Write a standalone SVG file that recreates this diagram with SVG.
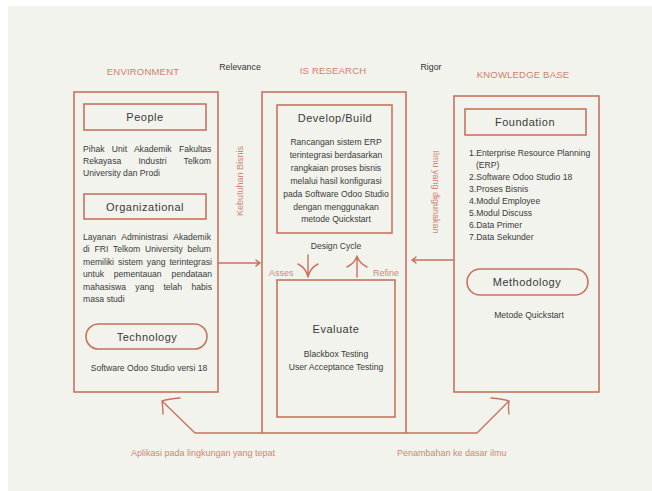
<svg xmlns="http://www.w3.org/2000/svg" width="652" height="491" viewBox="0 0 652 491">
<style>
.box{fill:none;stroke:#c8735f;stroke-width:1.6}
.ln{fill:none;stroke:#c8735f;stroke-width:1.4;stroke-linecap:round;stroke-linejoin:round}
.hd{font-family:"Liberation Sans",Arial,sans-serif;font-size:9.5px;fill:#d0806c;text-anchor:middle;letter-spacing:0.2px}
.rr{font-family:"Liberation Sans",Arial,sans-serif;font-size:8.8px;fill:#333;text-anchor:middle}
.tt{font-family:"Liberation Sans",Arial,sans-serif;font-size:11px;fill:#3a3a3a;text-anchor:middle;letter-spacing:0.5px}
.tx{font-family:"Liberation Sans",Arial,sans-serif;font-size:8.6px;fill:#3a3a3a}
.tc{font-family:"Liberation Sans",Arial,sans-serif;font-size:8.6px;fill:#3a3a3a;text-anchor:middle}
.lb{font-family:"Liberation Sans",Arial,sans-serif;font-size:9px;fill:#cf8672}
</style>
<rect x="0" y="0" width="652" height="491" fill="#ffffff"/>
<rect x="8" y="6" width="644" height="485" fill="#f3f3ee"/>

<g id="headers">
<text class="hd" x="143" y="75">ENVIRONMENT</text>
<text class="rr" x="240" y="70">Relevance</text>
<text class="hd" x="333" y="74">IS RESEARCH</text>
<text class="rr" x="431" y="70">Rigor</text>
<text class="hd" x="523" y="78">KNOWLEDGE BASE</text>
</g>

<g id="environment">
<rect class="box" x="74" y="92" width="144" height="300"/>
</g>
<g id="people">
<rect class="box" x="84" y="104" width="122" height="26"/>
<text class="tt" x="145" y="121">People</text>
<text class="tx" x="83" y="152" word-spacing="4.9">Pihak Unit Akademik Fakultas</text>
<text class="tx" x="83" y="164" word-spacing="14.8">Rekayasa Industri Telkom</text>
<text class="tx" x="83" y="176">University dan Prodi</text>
</g>
<g id="organizational">
<rect class="box" x="84" y="194" width="122" height="25"/>
<text class="tt" x="145" y="211">Organizational</text>
<text class="tx" x="83" y="240" word-spacing="3.3">Layanan Administrasi Akademik</text>
<text class="tx" x="83" y="252" word-spacing="2.4">di FRI Telkom University belum</text>
<text class="tx" x="83" y="265" word-spacing="1.6">memiliki sistem yang terintegrasi</text>
<text class="tx" x="83" y="277" word-spacing="7.4">untuk pementauan pendataan</text>
<text class="tx" x="83" y="290" word-spacing="7">mahasiswa yang telah habis</text>
<text class="tx" x="83" y="302">masa studi</text>
</g>
<g id="technology">
<rect class="box" x="86" y="324" width="121" height="25" rx="12.5"/>
<text class="tt" x="147" y="341">Technology</text>
<text class="tc" x="149" y="371">Software Odoo Studio versi 18</text>
</g>

<g id="is-research">
<rect class="box" x="262" y="92" width="144" height="341"/>
<text class="tc" x="336" y="249" font-size="9.3">Design Cycle</text>
<text class="lb" x="269" y="276">Asses</text>
<text class="lb" x="373" y="276">Refine</text>
</g>
<g id="develop-build">
<rect class="box" x="277" y="105" width="115" height="128"/>
<text class="tt" x="335" y="122" font-size="10.5" letter-spacing="0.2">Develop/Build</text>
<text class="tc" x="336" y="145">Rancangan sistem ERP</text>
<text class="tc" x="336" y="158">terintegrasi berdasarkan</text>
<text class="tc" x="336" y="171">rangkaian proses bisnis</text>
<text class="tc" x="336" y="184">melalui hasil konfigurasi</text>
<text class="tc" x="336" y="197">pada Software Odoo Studio</text>
<text class="tc" x="336" y="210">dengan menggunakan</text>
<text class="tc" x="336" y="222">metode Quickstart</text>
</g>
<g id="evaluate">
<rect class="box" x="277" y="280" width="118" height="137"/>
<text class="tt" x="336" y="333" font-size="10.5" letter-spacing="0.2">Evaluate</text>
<text class="tc" x="336" y="357">Blackbox Testing</text>
<text class="tc" x="336" y="370">User Acceptance Testing</text>
</g>

<g id="knowledge-base">
<rect class="box" x="454" y="96" width="145" height="296"/>
</g>
<g id="foundation">
<rect class="box" x="465" y="109" width="121" height="26"/>
<text class="tt" x="525" y="126">Foundation</text>
<text class="tx" x="469" y="156">1.Enterprise Resource Planning</text>
<text class="tx" x="476" y="168">(ERP)</text>
<text class="tx" x="469" y="180">2.Software Odoo Studio 18</text>
<text class="tx" x="469" y="192">3.Proses Bisnis</text>
<text class="tx" x="469" y="204">4.Modul Employee</text>
<text class="tx" x="469" y="216">5.Modul Discuss</text>
<text class="tx" x="469" y="228">6.Data Primer</text>
<text class="tx" x="469" y="240">7.Data Sekunder</text>
</g>
<g id="methodology">
<rect class="box" x="467" y="269" width="121" height="26" rx="13"/>
<text class="tt" x="527" y="286">Methodology</text>
<text class="tc" x="529" y="318">Metode Quickstart</text>
</g>

<g id="connectors">
<path class="ln" d="M218,263 H260 M256,260 Q258,262 260,263 Q258,264 256,266"/>
<text class="lb" transform="translate(243,181) rotate(-90)" text-anchor="middle" font-size="8">Kebutuhan Bisnis</text>
<path class="ln" d="M454,260 H412 M416,257 Q414,259 412,260 Q414,261 416,263"/>
<text class="lb" transform="translate(433,192) rotate(90)" text-anchor="middle" font-size="7">Ilmu yang digunakan</text>
<path class="ln" d="M308,255 V277 M298,264 Q306,268 308,277 Q310,268 318,264"/>
<path class="ln" d="M357,277 V256 M347,267 Q355,263 357,256 Q359,263 367,267"/>
<path class="ln" d="M262,433 H195 L162,401 M180,398 Q168,399 162,401 Q163,408 163,414"/>
<path class="ln" d="M406,433 H477 L509,401 M491,398 Q503,399 509,401 Q508,408 509,414"/>
<text class="lb" x="131" y="456" font-size="9.3">Aplikasi pada lingkungan yang tepat</text>
<text class="lb" x="397" y="456" font-size="9.3">Penambahan ke dasar ilmu</text>
</g>
</svg>
